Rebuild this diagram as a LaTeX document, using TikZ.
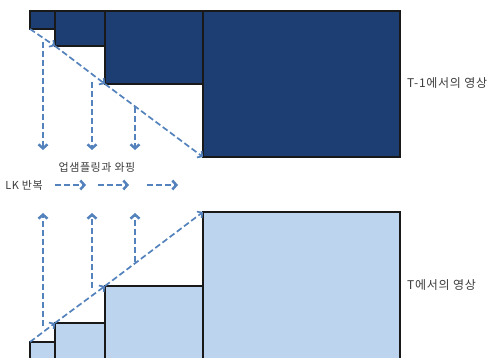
\documentclass[tikz,border=0pt]{standalone}
\usepackage{fontspec}
\setmainfont{Noto Sans CJK KR}
\usetikzlibrary{arrows.meta}
\definecolor{pyrdark}{RGB}{28,62,114}
\definecolor{pyrlight}{RGB}{189,212,238}
\definecolor{flowblue}{RGB}{84,130,188}
\definecolor{labelgray}{RGB}{60,60,60}
\tikzset{
    pyrtop/.style={draw=black!90,line width=1.8pt,fill=pyrdark},
    pyrbot/.style={draw=black!90,line width=1.8pt,fill=pyrlight},
    diagflow/.style={draw=flowblue,line width=1.7pt,dash pattern=on 6pt off 3pt,-{Straight Barb[length=3.5pt,width=8pt]}},
    vflow/.style={draw=flowblue,line width=2.5pt,dash pattern=on 6pt off 3pt,-{Straight Barb[length=4pt,width=9pt]}},
    lbl/.style={font=\fontsize{11}{13}\selectfont\addfontfeature{LetterSpace=5},text=labelgray,inner sep=0pt},
    sidelbl/.style={lbl,anchor=west,font=\fontsize{12}{14}\selectfont\addfontfeature{LetterSpace=6}}
}
\begin{document}
\begin{tikzpicture}[x=1pt,y=-1pt]
    \useasboundingbox (0,0) rectangle (496,358);
    \draw[pyrtop] (30,11) rectangle (55,29);
    \draw[pyrtop] (55,11) rectangle (105,46);
    \draw[pyrtop] (105,11) rectangle (203,84);
    \draw[pyrtop] (203,11) rectangle (400,157);
    \draw[pyrbot] (30,342) rectangle (55,362);
    \draw[pyrbot] (55,323) rectangle (105,362);
    \draw[pyrbot] (105,286) rectangle (203,362);
    \draw[pyrbot] (203,212) rectangle (400,362);

    \coordinate (a0) at (30,29);
    \coordinate (a1) at (55,46);
    \coordinate (a2) at (105,84);
    \coordinate (a3) at (203,157);
    \coordinate (b0) at (30,342);
    \coordinate (b1) at (55,323);
    \coordinate (b2) at (105,286);
    \coordinate (b3) at (203,212);
    \foreach \i/\j in {0/1,1/2,2/3} {
        \draw[diagflow] (a\i) -- (a\j);
        \draw[diagflow] (b\i) -- (b\j);
    }

    \foreach \x/\ya/\yb in {43/42/326,92/82/288,135/107/262} {
        \coordinate (dn\x) at (\x,\ya);
        \coordinate (dnend\x) at (\x,150);
        \coordinate (up\x) at (\x,\yb);
        \coordinate (upend\x) at (\x,213);
        \draw[vflow] (dn\x) -- (dnend\x);
        \draw[vflow] (up\x) -- (upend\x);
    }
    \foreach \x in {55,98,147} {
        \coordinate (lk\x) at (\x,185);
        \coordinate (lkend\x) at (\x+31,185);
        \draw[vflow] (lk\x) -- (lkend\x);
    }

    \node[lbl] (warp) at (97,167) {업샘플링과 와핑};
    \node[lbl] (lk) at (24,185) {LK 반복};
    \node[sidelbl] (prev) at (407,83) {T-1에서의 영상};
    \node[sidelbl] (cur) at (407,285) {T에서의 영상};
\end{tikzpicture}
\end{document}
